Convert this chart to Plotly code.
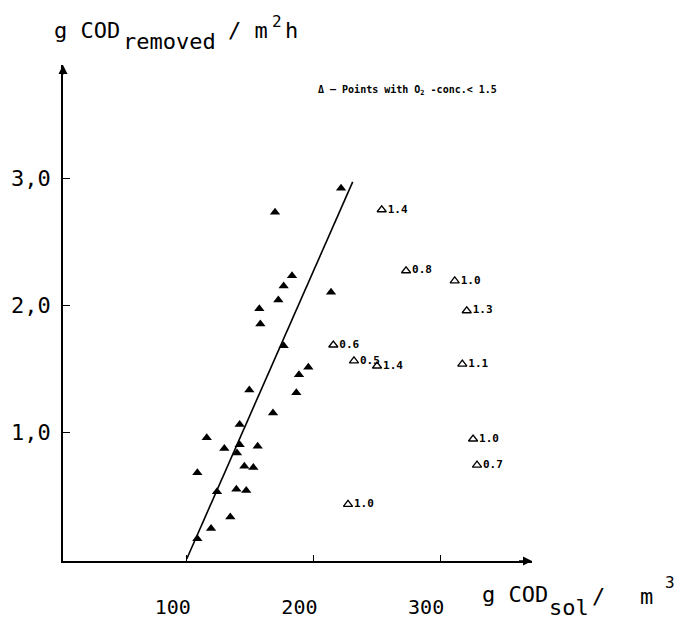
import plotly.graph_objects as go

# ---- data ----
# filled triangles: points with O2-conc >= 1.5
x_fill = [221.8, 169.7, 183.1, 176.5, 172.3, 157.3, 158.1, 213.9, 176.5, 196.0,
          188.6, 186.5, 149.4, 168.1, 141.8, 115.8, 129.7, 141.8, 156.0, 139.7,
          145.5, 152.6, 108.4, 123.9, 139.2, 147.0, 134.4, 119.2, 108.4]
y_fill = [2.92, 2.73, 2.23, 2.15, 2.04, 1.97, 1.85, 2.10, 1.68, 1.51,
          1.45, 1.31, 1.33, 1.15, 1.06, 0.955, 0.87, 0.90, 0.887, 0.835,
          0.73, 0.72, 0.68, 0.53, 0.55, 0.54, 0.33, 0.24, 0.16]

# open triangles: points with O2-conc < 1.5, labelled with the O2 value
x_open = [253.9, 273.1, 311.5, 321.0, 215.7, 232.0, 250.2, 317.5, 326.0, 329.1, 227.3]
y_open = [2.75, 2.27, 2.19, 1.955, 1.685, 1.56, 1.52, 1.535, 0.945, 0.74, 0.43]
o2_labels = ["1.4", "0.8", "1.0", "1.3", "0.6", "0.5", "1.4", "1.1", "1.0", "0.7", "1.0"]

# fitted line
x_fit = [100, 231]
y_fit = [0.0, 2.97]

x_tickvals = [100, 200, 300]
x_ticktext = ["100", "200", "300"]
y_tickvals = [1, 2, 3]
y_ticktext = ["1,0", "2,0", "3,0"]

# ---- layout geometry (page body has an 8px margin) ----
OFF = 8
W, H = 675, 611
L, T = 63 - OFF, 65 - OFF
R = W - (532 - OFF)
B = H - (561 - OFF)
PW, PH = W - L - R, H - T - B
XR = [2.37, 372.5]
YR = [-0.0157, 3.89]
MONO = "DejaVu Sans Mono"


def px2paper(px, py):
    # px, py are screen pixel positions of the reference image
    return (px - OFF - L) / PW, (H - B - (py - OFF)) / PH


fig = go.Figure()

fig.add_trace(go.Scatter(x=x_fit, y=y_fit, mode="lines",
                         line=dict(color="black", width=1.6), hoverinfo="skip"))
fig.add_trace(go.Scatter(x=x_fill, y=y_fill, mode="markers",
                         marker=dict(symbol="triangle-up", size=9, color="black",
                                     line=dict(width=0))))
fig.add_trace(go.Scatter(x=x_open, y=y_open, mode="markers+text",
                         text=o2_labels, textposition="middle right",
                         textfont=dict(family=MONO, size=11, color="black", weight="bold"),
                         marker=dict(symbol="triangle-up-open", size=8, color="black",
                                     line=dict(width=1.3, color="black"))))

fig.update_layout(
    width=W, height=H, margin=dict(l=L, r=R, t=T, b=B, autoexpand=False),
    paper_bgcolor="white", plot_bgcolor="white", showlegend=False,
    font=dict(family=MONO, color="black"),
)
fig.update_xaxes(range=XR, showgrid=False, zeroline=False, showline=True, automargin=False,
                 linecolor="black", linewidth=1.5, ticks="inside", ticklen=6,
                 tickwidth=1, tickcolor="black", tickvals=x_tickvals, ticktext=x_ticktext,
                 tickfont=dict(family=MONO, size=20, color="black"),
                 ticklabelstandoff=27, ticklabelshift=-14)
fig.update_yaxes(range=YR, showgrid=False, zeroline=False, showline=True, automargin=False,
                 linecolor="black", linewidth=1.5, ticks="inside", ticklen=7,
                 tickwidth=1, tickcolor="black", tickvals=y_tickvals, ticktext=y_ticktext,
                 tickfont=dict(family=MONO, size=22, color="black"),
                 ticklabelstandoff=6)

ann = []
# axis arrows
ann.append(dict(x=XR[0], y=YR[1], xref="x", yref="y", ax=0, ay=18, showarrow=True,
                arrowhead=2, arrowsize=1.2, arrowwidth=1.5, arrowcolor="black", text=" "))
ann.append(dict(x=XR[1], y=YR[0], xref="x", yref="y", ax=-18, ay=0, showarrow=True,
                arrowhead=2, arrowsize=1.2, arrowwidth=1.5, arrowcolor="black", text=" "))


def txt(text, px, py, size, bold=False):
    xp, yp = px2paper(px, py)
    ann.append(dict(x=xp, y=yp, xref="paper", yref="paper", text=text, showarrow=False,
                    xanchor="left", yanchor="middle",
                    font=dict(family=MONO, size=size, color="black",
                              weight="bold" if bold else "normal")))


# y-axis title: g COD_removed / m^2 h
txt("g COD", 52, 30, 22)
txt("removed", 121, 42, 22)
txt("/ m", 226, 30, 22)
txt("2", 270, 21, 16)
txt("h", 283, 30, 22)

# x-axis title: g COD_sol / m^3
txt("g COD", 480, 594, 22)
txt("sol", 547, 607, 22)
txt("/", 590, 596, 22)
txt("m", 638, 596, 22)
txt("3", 663, 582, 16)

# note
txt("Δ — Points with O<sub>2</sub> -conc.&lt; 1.5", 316, 90, 10, bold=True)

fig.update_layout(annotations=ann)
fig.write_html("out.html")
